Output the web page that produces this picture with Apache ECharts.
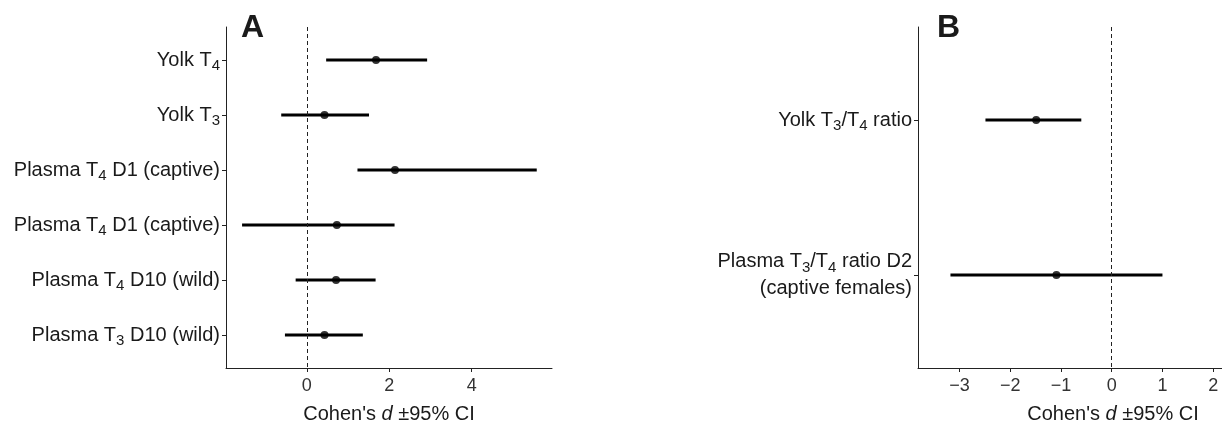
<!DOCTYPE html>
<html>
<head>
<meta charset="utf-8">
<script src="https://cdn.jsdelivr.net/npm/echarts@6/dist/echarts.min.js"></script>
<style>
  html, body { margin: 0; padding: 0; background: #fff; }
  #chart { width: 1222px; height: 424px; }
</style>
</head>
<body>
<div id="chart"></div>
<script>
// panel A: effect sizes, top to bottom
const labelsA = [
  'Yolk T{s|4}',
  'Yolk T{s|3}',
  'Plasma T{s|4} D1 (captive)',
  'Plasma T{s|4} D1 (captive)',
  'Plasma T{s|4} D10 (wild)',
  'Plasma T{s|3} D10 (wild)'
];
const meanA = [1.68, 0.43, 2.14, 0.73, 0.71, 0.43];
const lowA = [0.47, -0.62, 1.23, -1.57, -0.27, -0.53];
const highA = [2.92, 1.51, 5.58, 2.13, 1.67, 1.36];
const ticksA = [0, 2, 4];

// panel B (the source figure is cut off on the right)
const labelsB = [
  'Yolk T{s|3}/T{s|4} ratio',
  'Plasma T{s|3}/T{s|4} ratio D2\n(captive females)'
];
const meanB = [-1.49, -1.09];
const lowB = [-2.49, -3.18];
const highB = [-0.60, 1.00];
const ticksB = [-3, -2, -1, 0, 1, 2];

const FONT = '"Liberation Sans", Arial, Helvetica, sans-serif';
const INK = '#1a1a1a';

const chart = echarts.init(document.getElementById('chart'));

function xAxisFor(idx, min, max, ticks) {
  return {
    gridIndex: idx,
    type: 'value',
    min: min,
    max: max,
    splitLine: { show: false },
    axisLine: { show: true, onZero: false, lineStyle: { color: '#222', width: 1 } },
    axisTick: { show: true, length: 4, customValues: ticks, lineStyle: { color: '#222' } },
    axisLabel: {
      customValues: ticks,
      margin: 9,
      fontSize: 18,
      fontFamily: FONT,
      color: '#333',
      formatter: v => (v < 0 ? '\u2212' + Math.abs(v) : String(v))
    },
    name: "Cohen's {i|d} \u00b195% CI",
    nameLocation: 'middle',
    nameGap: 36,
    nameTextStyle: {
      fontSize: 20,
      fontFamily: FONT,
      color: INK,
      rich: { i: { fontSize: 20, fontStyle: 'italic', fontFamily: FONT, color: INK } }
    }
  };
}

function yAxisFor(idx, labels) {
  const vals = labels.map((_, i) => i + 1);
  return {
    gridIndex: idx,
    type: 'value',
    inverse: true,
    min: 0.4,
    max: labels.length + 0.6,
    splitLine: { show: false },
    axisLine: { show: true, onZero: false, lineStyle: { color: '#222', width: 1 } },
    axisTick: { show: true, length: 4, customValues: vals, lineStyle: { color: '#222' } },
    axisLabel: {
      customValues: vals,
      margin: 6,
      fontSize: 20,
      lineHeight: 27,
      fontFamily: FONT,
      color: INK,
      align: 'right',
      formatter: v => labels[Math.round(v) - 1],
      rich: {
        s: { fontSize: 15, lineHeight: 8, verticalAlign: 'bottom', fontFamily: FONT, color: INK }
      }
    }
  };
}

function barSeries(idx, low, high) {
  return {
    type: 'custom',
    xAxisIndex: idx,
    yAxisIndex: idx,
    z: 3,
    silent: true,
    data: low.map((lo, i) => [lo, high[i], i + 1]),
    encode: { x: [0, 1], y: 2 },
    renderItem(params, api) {
      const a = api.coord([api.value(0), api.value(2)]);
      const b = api.coord([api.value(1), api.value(2)]);
      return {
        type: 'line',
        shape: { x1: a[0], y1: a[1], x2: b[0], y2: b[1] },
        style: { stroke: '#000', lineWidth: 3 }
      };
    },
    markLine: {
      silent: true,
      symbol: 'none',
      label: { show: false },
      lineStyle: { color: '#222', width: 1, type: [4, 3] },
      data: [{ xAxis: 0 }]
    }
  };
}

function dotSeries(idx, mean) {
  return {
    type: 'scatter',
    xAxisIndex: idx,
    yAxisIndex: idx,
    z: 4,
    silent: true,
    symbolSize: 8,
    itemStyle: { color: '#000' },
    data: mean.map((m, i) => [m, i + 1])
  };
}

const option = {
  animation: false,
  backgroundColor: '#fff',
  title: [
    { text: 'A', left: 236, top: 7, textStyle: { fontSize: 32, fontWeight: 'bold', fontFamily: FONT, color: INK } },
    { text: 'B', left: 932, top: 7, textStyle: { fontSize: 32, fontWeight: 'bold', fontFamily: FONT, color: INK } }
  ],
  grid: [
    { left: 226, top: 27, width: 326, height: 341, outerBoundsMode: 'none' },
    { left: 918, top: 27, width: 390, height: 341, outerBoundsMode: 'none' }
  ],
  xAxis: [xAxisFor(0, -1.96, 5.95, ticksA), xAxisFor(1, -3.82, 3.87, ticksB)],
  yAxis: [yAxisFor(0, labelsA), yAxisFor(1, labelsB)],
  series: [
    barSeries(0, lowA, highA),
    dotSeries(0, meanA),
    barSeries(1, lowB, highB),
    dotSeries(1, meanB)
  ]
};

chart.setOption(option);
</script>
</body>
</html>
